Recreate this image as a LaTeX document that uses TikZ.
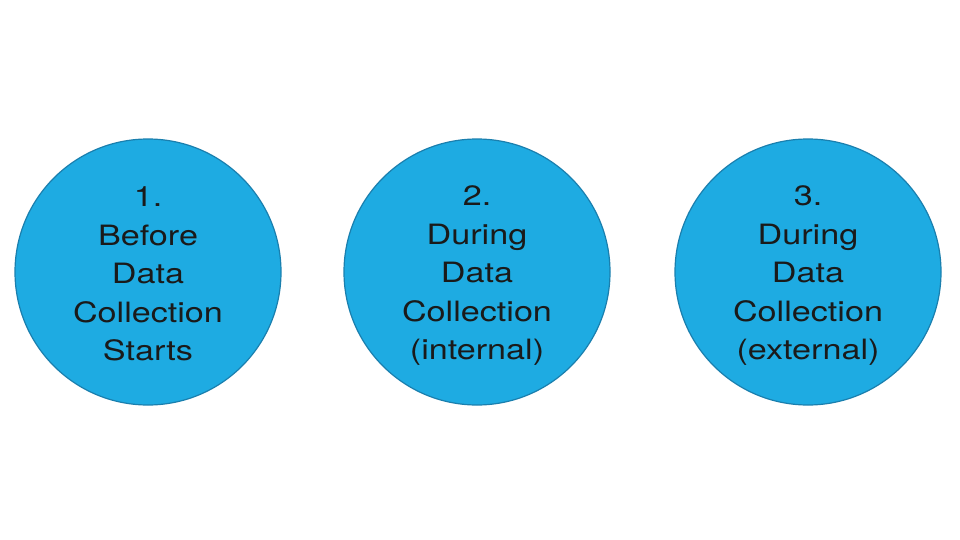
\documentclass[tikz,border=0pt]{standalone}
\usepackage{fontspec}
\setmainfont[FakeStretch=1.22]{TeX Gyre Heros}
\definecolor{cfill}{HTML}{1EABE2}
\definecolor{cdraw}{HTML}{1A7FAE}
\definecolor{ctext}{HTML}{1A1A1A}
\begin{document}
\begin{tikzpicture}[x=1pt,y=-1pt,
  stage/.style={circle,fill=cfill,draw=cdraw,line width=1.2pt,minimum size=266pt,inner sep=0pt},
  lbl/.style={align=center,text=ctext,inner sep=0pt,font=\fontsize{28}{38.5}\selectfont}]
\useasboundingbox (0,0) rectangle (960,540);
\node[stage] (a) at (148,272) {};
\node[stage] (b) at (477,272) {};
\node[stage] (c) at (808,272) {};
\node[lbl] (ta) at ([yshift=-2pt]a.center) {1.\\Before\\Data\\Collection\\Starts};
\node[lbl] (tb) at ([yshift=-4pt]b.center) {2.\\During\\Data\\Collection\\(internal)};
\node[lbl] (tc) at ([yshift=-4pt]c.center) {3.\\During\\Data\\Collection\\(external)};
\end{tikzpicture}
\end{document}
